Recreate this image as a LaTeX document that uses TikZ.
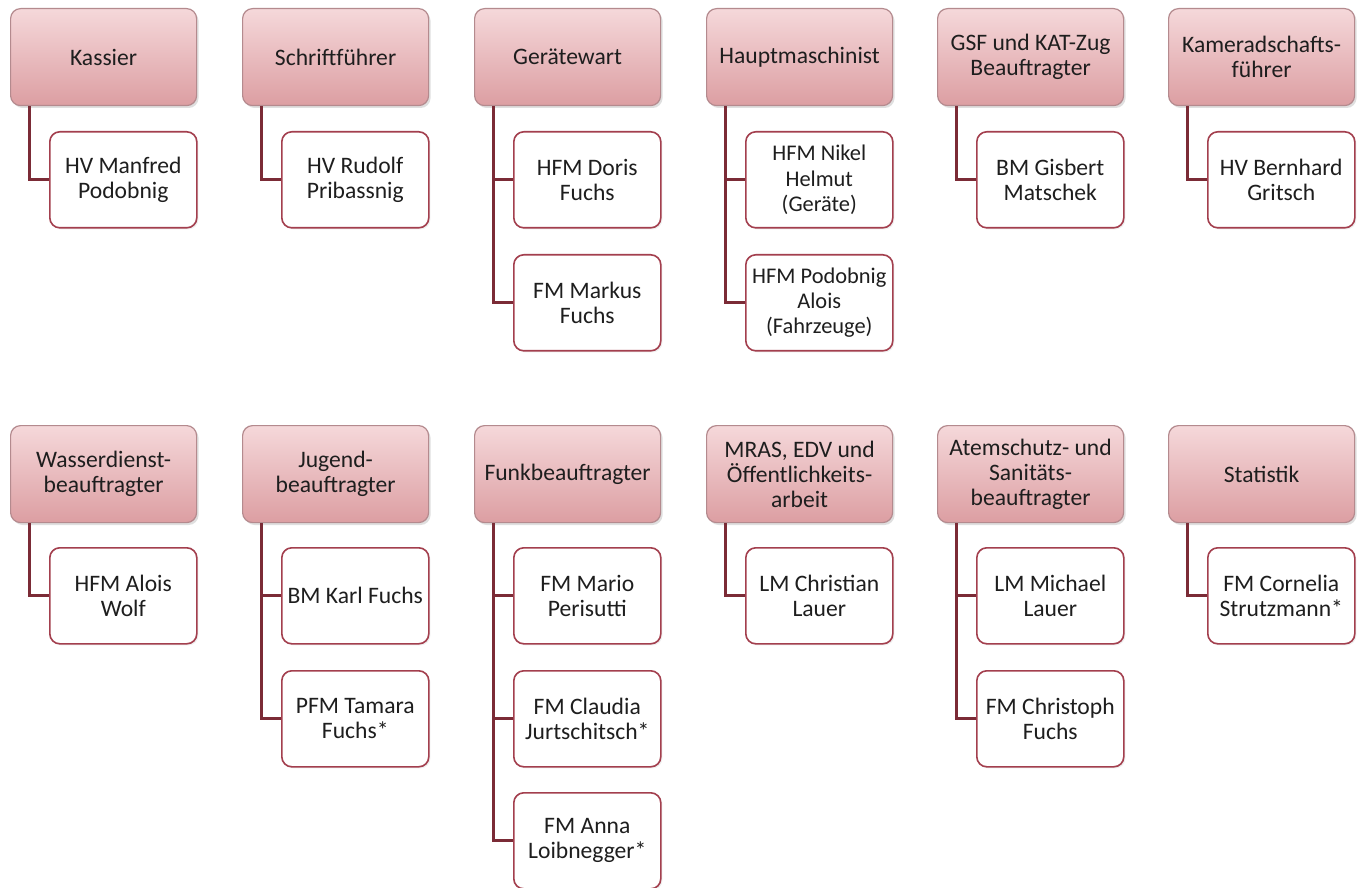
\documentclass[tikz,border=0pt]{standalone}
\usepackage{fontspec}
\setmainfont{Carlito}
\usetikzlibrary{calc,shadows}
\definecolor{headtop}{HTML}{F5D8DA}
\definecolor{headbot}{HTML}{DC9EA2}
\definecolor{headborder}{HTML}{B48A8E}
\definecolor{childborder}{HTML}{A33F4E}
\definecolor{connc}{HTML}{7B2B36}
\definecolor{txt}{HTML}{1E1E1E}
\tikzset{
  every node/.style={font=\fontsize{11.8pt}{12.4pt}\selectfont, text=txt, align=center, inner sep=2pt},
  head/.style={draw=headborder, line width=0.6pt, rounded corners=5pt, top color=headtop, bottom color=headbot,
    minimum width=93pt, minimum height=48.5pt, anchor=north west,
    drop shadow={opacity=0.25, shadow xshift=1pt, shadow yshift=-1.2pt}},
  child/.style={draw=childborder, line width=0.8pt, fill=white, rounded corners=5pt,
    minimum width=73.5pt, minimum height=48pt, anchor=north west,
    drop shadow={opacity=0.12, shadow xshift=0.8pt, shadow yshift=-0.8pt}},
  smalltext/.style={font=\fontsize{11.2pt}{12.6pt}\selectfont},
  conn/.style={draw=connc, line width=1.5pt, line join=miter}
}
\begin{document}
\begin{tikzpicture}[x=0.5pt,y=-0.5pt]
\useasboundingbox[fill=white] (0,0) rectangle (1357,888);
% ---------- row 1 ----------
\node[head] (h1) at (10,8) {Kassier};
\node[head] (h2) at (242,8) {Schriftführer};
\node[head] (h3) at (474,8) {Gerätewart};
\node[head] (h4) at (706,8) {Hauptmaschinist};
\node[head] (h5) at (937,8) {GSF und KAT-Zug\\Beauftragter};
\node[head] (h6) at (1168,8) {Kameradschafts-\\führer};
\node[child] (c1a) at (49,131) {HV Manfred\\Podobnig};
\node[child] (c2a) at (281,131) {HV Rudolf\\Pribassnig};
\node[child] (c3a) at (513,131) {HFM Doris\\Fuchs};
\node[child] (c3b) at (513,254) {FM Markus\\Fuchs};
\node[child,smalltext] (c4a) at (745,131) {HFM Nikel\\Helmut\\(Geräte)};
\node[child,smalltext] (c4b) at (745,254) {HFM Podobnig\\Alois\\(Fahrzeuge)};
\node[child] (c5a) at (976,131) {BM Gisbert\\Matschek};
\node[child] (c6a) at (1207,131) {HV Bernhard\\Gritsch};
% ---------- row 2 ----------
\node[head] (h7) at (10,425) {Wasserdienst-\\beauftragter};
\node[head] (h8) at (242,425) {Jugend-\\beauftragter};
\node[head] (h9) at (474,425) {Funkbeauftragter};
\node[head] (h10) at (706,425) {MRAS, EDV und\\Öffentlichkeits-\\arbeit};
\node[head] (h11) at (937,425) {Atemschutz- und\\Sanitäts-\\beauftragter};
\node[head] (h12) at (1168,425) {Statistik};
\node[child] (c7a) at (49,547) {HFM Alois\\Wolf};
\node[child] (c8a) at (281,547) {BM Karl Fuchs};
\node[child] (c8b) at (281,670) {PFM Tamara\\Fuchs*};
\node[child] (c9a) at (513,547) {FM Mario\\Perisutti};
\node[child] (c9b) at (513,670) {FM Claudia\\Jurtschitsch*};
\node[child] (c9c) at (513,792) {FM Anna\\Loibnegger*};
\node[child] (c10a) at (745,547) {LM Christian\\Lauer};
\node[child] (c11a) at (976,547) {LM Michael\\Lauer};
\node[child] (c11b) at (976,670) {FM Christoph\\Fuchs};
\node[child] (c12a) at (1207,547) {FM Cornelia\\Strutzmann*};
% ---------- connectors ----------
\foreach \h/\c in {h1/c1a,h2/c2a,h3/c3a,h3/c3b,h4/c4a,h4/c4b,h5/c5a,h6/c6a,
                   h7/c7a,h8/c8a,h8/c8b,h9/c9a,h9/c9b,h9/c9c,h10/c10a,h11/c11a,h11/c11b,h12/c12a}
  \draw[conn] ($(\h.south west)+(19,0)$) |- (\c.west);
\end{tikzpicture}
\end{document}
